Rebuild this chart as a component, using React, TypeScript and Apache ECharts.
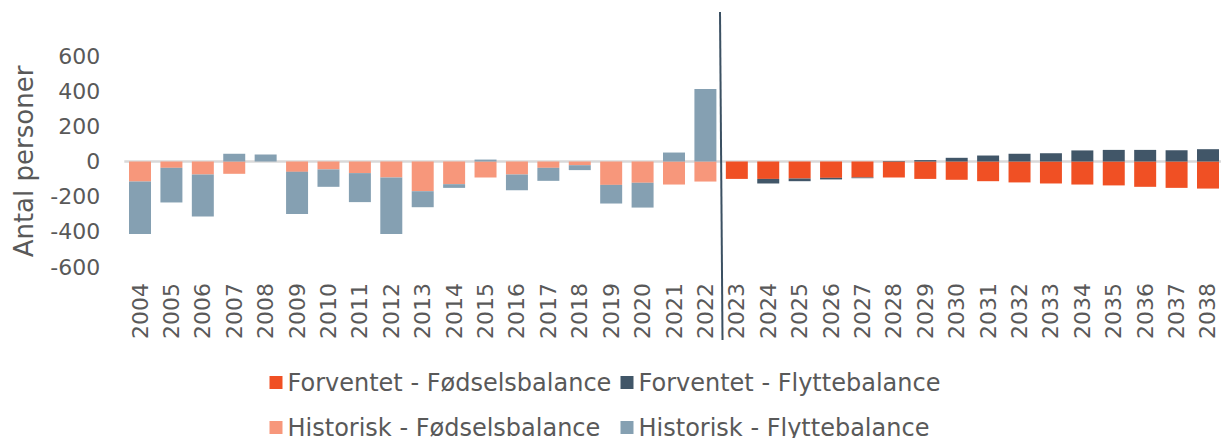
import React, { useEffect, useRef } from "react";
import * as echarts from "echarts";

const years: string[] = [
  "2004", "2005", "2006", "2007", "2008", "2009", "2010", "2011", "2012", "2013",
  "2014", "2015", "2016", "2017", "2018", "2019", "2020", "2021", "2022",
  "2023", "2024", "2025", "2026", "2027", "2028", "2029", "2030", "2031", "2032",
  "2033", "2034", "2035", "2036", "2037", "2038",
];

// Historisk 2004-2022
const histBirth: number[] = [-114, -36, -74, -70, 0, -59, -45, -66, -91, -169, -129, -91, -74, -36, -21, -133, -121, -131, -114];
const histMig: number[] = [-298, -197, -239, 44, 40, -239, -99, -165, -322, -91, -21, 11, -89, -74, -28, -106, -141, 51, 413];

// Forventet 2023-2038
const foreBirth: number[] = [-99, -99, -97, -93, -91, -91, -99, -104, -112, -119, -125, -131, -136, -144, -150, -154];
const foreMig: number[] = [0, -26, -15, -9, -4, 3, 8, 21, 34, 44, 47, 63, 66, 66, 64, 70];

const yTicks: number[] = [-600, -400, -200, 0, 200, 400, 600];

const names = [
  "Forventet - Fødselsbalance",
  "Forventet - Flyttebalance",
  "Historisk - Fødselsbalance",
  "Historisk - Flyttebalance",
];
const colors = ["#F05024", "#415668", "#F7977B", "#85A0B2"];

const FONT = "DejaVu Sans";
const TEXT = "#595959";

export default function App() {
  const ref = useRef<HTMLDivElement>(null);
  useEffect(() => {
    if (!ref.current) return;
    const chart = echarts.init(ref.current, null, { renderer: "svg" });
    const nHist = histBirth.length;
    const nFore = foreBirth.length;
    const padH = (arr: number[]) => [...arr, ...Array(nFore).fill(null)];
    const padF = (arr: number[]) => [...Array(nHist).fill(null), ...arr];
    const seriesData = [padF(foreBirth), padF(foreMig), padH(histBirth), padH(histMig)];

    const legendPos = [
      { left: 269.5, top: 370.5 },
      { left: 620.5, top: 370.5 },
      { left: 269.5, top: 415.5 },
      { left: 620.5, top: 415.5 },
    ];

    chart.setOption({
      animation: false,
      textStyle: { fontFamily: FONT },
      grid: {
        left: 124.3,
        width: 1099.4,
        top: 56,
        height: 211,
        containLabel: false,
        outerBoundsMode: "none",
      },
      legend: names.map((n, i) => ({
        data: [n],
        left: legendPos[i].left,
        top: legendPos[i].top,
        padding: 0,
        itemWidth: 13,
        itemHeight: 13,
        icon: "rect",
        selectedMode: false,
        textStyle: { fontSize: 24, color: TEXT, fontFamily: FONT, lineHeight: 24 },
      })),
      xAxis: {
        type: "category",
        data: years,
        axisLine: { show: false, onZero: false },
        axisTick: { show: false },
        axisLabel: {
          rotate: 90,
          interval: 0,
          margin: 16,
          fontSize: 22,
          color: TEXT,
          fontFamily: FONT,
        },
      },
      yAxis: {
        type: "value",
        min: yTicks[0],
        max: yTicks[yTicks.length - 1],
        interval: 200,
        splitLine: { show: false },
        axisLine: { show: false },
        axisTick: { show: false },
        axisLabel: { fontSize: 22, color: TEXT, margin: 24, fontFamily: FONT },
        name: "Antal personer",
        nameLocation: "middle",
        nameGap: 87,
        nameRotate: 90,
        nameTextStyle: { fontSize: 26, color: TEXT, fontFamily: FONT },
      },
      graphic: [
        {
          type: "line",
          z: 100,
          shape: { x1: 720, y1: 12, x2: 722.5, y2: 340 },
          style: { stroke: "#3B5062", lineWidth: 2 },
        },
      ],
      series: names.map((n, i) => ({
        name: n,
        type: "bar",
        stack: "total",
        barWidth: "70%",
        data: seriesData[i],
        itemStyle: { color: colors[i] },
        markLine:
          i === 0
            ? {
                silent: true,
                symbol: "none",
                label: { show: false },
                lineStyle: { color: "#D9D9D9", width: 2.5, type: "solid" },
                data: [{ yAxis: 0 }],
                z: 1,
              }
            : undefined,
      })),
    });
    return () => chart.dispose();
  }, []);
  return (
    <div
      ref={ref}
      style={{ position: "absolute", left: 0, top: 0, width: 1221, height: 438 }}
    />
  );
}
